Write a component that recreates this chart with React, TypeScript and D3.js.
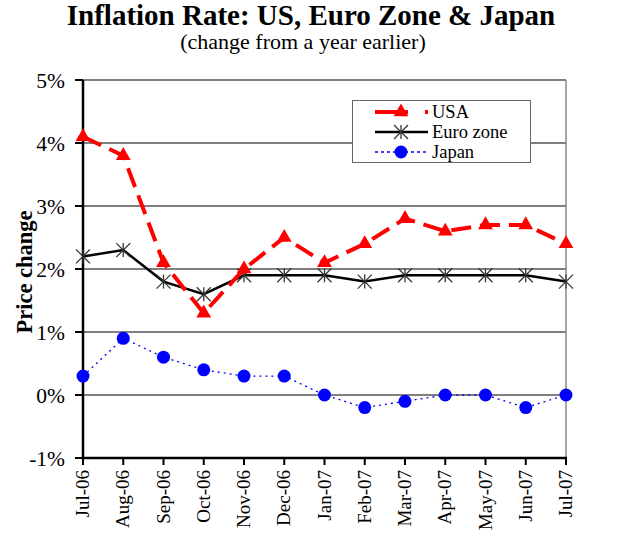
import React from "react";
import * as d3 from "d3";

const months = ["Jul-06","Aug-06","Sep-06","Oct-06","Nov-06","Dec-06","Jan-07","Feb-07","Mar-07","Apr-07","May-07","Jun-07","Jul-07"];
const usa = [4.1, 3.8, 2.1, 1.3, 2.0, 2.5, 2.1, 2.4, 2.8, 2.6, 2.7, 2.7, 2.4];
const euro = [2.2, 2.3, 1.8, 1.6, 1.9, 1.9, 1.9, 1.8, 1.9, 1.9, 1.9, 1.9, 1.8];
const japan = [0.3, 0.9, 0.6, 0.4, 0.3, 0.3, 0.0, -0.2, -0.1, 0.0, 0.0, -0.2, 0.0];
const yTicks = [-1, 0, 1, 2, 3, 4, 5];

const FONT = "'Liberation Serif', 'Times New Roman', serif";

const x = d3.scalePoint<string>().domain(months).range([83, 566]);
const y = d3.scaleLinear().domain([-1, 5]).range([458, 80]);

const tri = d3.symbol().type(d3.symbolTriangle).size(95)()!;

function Star({ cx, cy }: { cx: number; cy: number }) {
  const r = 7;
  return (
    <g stroke="#333" strokeWidth={1.3}>
      <line x1={cx - r} y1={cy - r} x2={cx + r} y2={cy + r} />
      <line x1={cx - r} y1={cy + r} x2={cx + r} y2={cy - r} />
      <line x1={cx} y1={cy - r} x2={cx} y2={cy + r} />
    </g>
  );
}

export default function App() {
  const line = d3.line<number>().x((_, i) => x(months[i])!).y((d) => y(d));
  return (
    <svg width={620} height={541} style={{ position: "absolute", left: 0, top: 0 }} fontFamily={FONT}>
      <text x={311} y={25} textAnchor="middle" fontSize={29} fontWeight="bold">Inflation Rate: US, Euro Zone &amp; Japan</text>
      <text x={303} y={49} textAnchor="middle" fontSize={22}>(change from a year earlier)</text>

      {yTicks.map((t) => (
        <g key={t}>
          {t !== -1 && <line x1={83} x2={566} y1={y(t)} y2={y(t)} stroke="#000" strokeWidth={1} />}
          <line x1={75} x2={83} y1={y(t)} y2={y(t)} stroke="#000" strokeWidth={2} />
          <text x={65} y={y(t) + 7.5} textAnchor="end" fontSize={21.5}>{t}%</text>
        </g>
      ))}
      <line x1={566} x2={566} y1={80} y2={458} stroke="#888" strokeWidth={1.5} />
      <line x1={83} x2={83} y1={80} y2={459} stroke="#000" strokeWidth={2.5} />
      <line x1={83} x2={567} y1={458} y2={458} stroke="#000" strokeWidth={2.5} />
      {months.map((m) => (
        <g key={m}>
          <line x1={x(m)!} x2={x(m)!} y1={458} y2={465} stroke="#000" strokeWidth={2} />
          <text transform={`translate(${x(m)! + 6},${470}) rotate(-90)`} textAnchor="end" fontSize={19}>{m}</text>
        </g>
      ))}
      <text transform="translate(32,272) rotate(-90)" textAnchor="middle" fontSize={22.5} fontWeight="bold">Price change</text>

      <path d={line(euro)!} fill="none" stroke="#000" strokeWidth={2.5} />
      {euro.map((v, i) => <Star key={i} cx={x(months[i])!} cy={y(v)} />)}

      <path d={line(japan)!} fill="none" stroke="#0000ff" strokeWidth={1.3} strokeDasharray="2,4" />
      {japan.map((v, i) => <circle key={i} cx={x(months[i])!} cy={y(v)} r={6.5} fill="#0000ff" />)}

      <path d={line(usa)!} fill="none" stroke="#ff0000" strokeWidth={4} strokeDasharray="20,9" />
      {usa.map((v, i) => <path key={i} d={tri} transform={`translate(${x(months[i])!},${y(v)})`} fill="#ff0000" />)}

      <rect x={352.5} y={100.5} width={178} height={62} fill="#fff" stroke="#666" strokeWidth={1} />
      <line x1={375} x2={408} y1={112} y2={112} stroke="#ff0000" strokeWidth={4} />
      <line x1={425} x2={428} y1={112} y2={112} stroke="#ff0000" strokeWidth={4} />
      <path d={tri} transform="translate(401,112)" fill="#ff0000" />
      <text x={432} y={118} fontSize={18.5}>USA</text>
      <line x1={375} x2={428} y1={132} y2={132} stroke="#000" strokeWidth={2.5} />
      <Star cx={401} cy={132} />
      <text x={432} y={138} fontSize={18.5}>Euro zone</text>
      <line x1={375} x2={428} y1={152} y2={152} stroke="#0000ff" strokeWidth={1.3} strokeDasharray="3,3" />
      <circle cx={401} cy={152} r={6.5} fill="#0000ff" />
      <text x={432} y={158} fontSize={18.5}>Japan</text>
    </svg>
  );
}
